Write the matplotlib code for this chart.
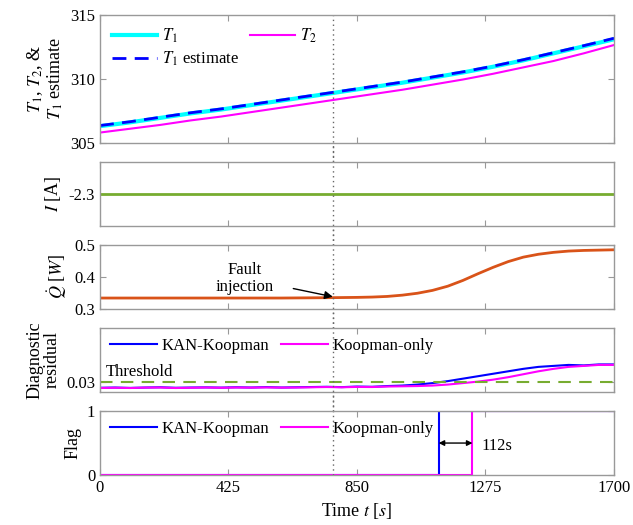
import numpy as np
import matplotlib
matplotlib.use('Agg')
import matplotlib.pyplot as plt

plt.rcParams['font.family'] = ['Liberation Serif', 'DejaVu Serif']
plt.rcParams['mathtext.fontset'] = 'stix'
plt.rcParams['font.size'] = 12

# temperatures (every 100 s)
t_temp = [0, 100, 200, 300, 400, 500, 600, 700, 800, 900,
          1000, 1100, 1200, 1300, 1400, 1500, 1600, 1700]
T1 = [306.3, 306.6, 306.95, 307.3, 307.6, 307.95, 308.3, 308.65, 309.0, 309.35,
      309.7, 310.1, 310.5, 310.95, 311.45, 312.0, 312.55, 313.1]
T1_est = [306.35, 306.65, 307.0, 307.35, 307.65, 308.0, 308.35, 308.7, 309.05, 309.4,
          309.75, 310.15, 310.55, 311.0, 311.5, 312.05, 312.6, 313.18]
T2 = [305.8, 306.1, 306.4, 306.75, 307.05, 307.4, 307.75, 308.1, 308.45, 308.8,
      309.15, 309.55, 309.95, 310.4, 310.9, 311.4, 312.0, 312.65]

# current
t_I = [0, 1700]
I_vals = [-2.3, -2.3]

# heat generation
t_Q = [0, 200, 400, 600, 750, 850, 900, 950, 1000, 1050, 1100, 1150, 1200,
       1250, 1300, 1350, 1400, 1450, 1500, 1550, 1600, 1650, 1700]
Q = [0.334, 0.334, 0.334, 0.334, 0.335, 0.336, 0.337, 0.339, 0.343, 0.349,
     0.358, 0.371, 0.389, 0.410, 0.430, 0.448, 0.462, 0.471, 0.477, 0.481,
     0.483, 0.484, 0.485]

# diagnostic residuals (every 50 s)
t_res = [0, 50, 100, 150, 200, 250, 300, 350, 400, 450, 500, 550, 600, 650,
         700, 750, 800, 850, 900, 950, 1000, 1050, 1100, 1150, 1200, 1250,
         1300, 1350, 1400, 1450, 1500, 1550, 1600, 1650, 1700]
res_kan = [0.02885, 0.0289, 0.02882, 0.0289, 0.02895, 0.02885, 0.0289, 0.02893,
           0.02888, 0.02895, 0.0289, 0.02898, 0.0289, 0.02895, 0.029, 0.02905,
           0.02898, 0.0291, 0.02905, 0.0292, 0.0293, 0.0295, 0.0298, 0.0302,
           0.0307, 0.0312, 0.0317, 0.0322, 0.0327, 0.0331, 0.0333, 0.0335,
           0.0334, 0.0336, 0.0336]
res_koop = [0.0288, 0.02885, 0.0288, 0.02888, 0.0289, 0.0288, 0.02885, 0.0289,
            0.02885, 0.0289, 0.02888, 0.02892, 0.02888, 0.0289, 0.02895, 0.029,
            0.02895, 0.02902, 0.029, 0.0291, 0.02915, 0.0292, 0.0293, 0.0295,
            0.0298, 0.0301, 0.0305, 0.031, 0.0316, 0.0322, 0.0327, 0.0331,
            0.0333, 0.0335, 0.0335]
threshold = 0.03

# detection flags
t_flag = [0, 1120, 1700]
flag_kan = [0, 1, 1]
t_flag2 = [0, 1232, 1700]
flag_koop = [0, 1, 1]

t_fault = 770

green = (0.466, 0.674, 0.188)
orange = (0.85, 0.325, 0.098)
edge = (0.6, 0.6, 0.6)

fig = plt.figure(figsize=(6.33, 5.25), dpi=100)
gs = fig.add_gridspec(5, 1, height_ratios=[2, 1, 1, 1, 1], hspace=0.25,
                      left=100/633, right=614/633, top=1-15/525, bottom=1-475/525)
axes = [fig.add_subplot(gs[i]) for i in range(5)]

for ax in axes:
    ax.set_xlim(0, 1700)
    ax.set_xticks([0, 425, 850, 1275, 1700])
    ax.tick_params(direction='in', top=True, right=True, length=4, color=edge,
                   labelsize=12)
    for s in ax.spines.values():
        s.set_color(edge)
        s.set_linewidth(1.0)
    if ax is not axes[-1]:
        ax.tick_params(labelbottom=False)

# panel 1
ax = axes[0]
ax.plot(t_temp, T1, color='cyan', lw=3, label='$T_1$')
ax.plot(t_temp, T1_est, color='blue', lw=2, ls=(0, (5, 3)), label='$T_1$ estimate')
ax.plot(t_temp, T2, color='magenta', lw=1.5, label='$T_2$')
ax.set_ylim(305, 315)
ax.set_yticks([305, 310, 315])
h, l = ax.get_legend_handles_labels()
ax.legend(h, l, ncol=2, loc='upper left', frameon=False, fontsize=12,
          handlelength=2.7, handletextpad=0.3, columnspacing=0.7,
          borderaxespad=0.3, labelspacing=0.3)
ax.set_ylabel('$T_1$, $T_2$, &\n$T_1$ estimate', fontsize=13, linespacing=1.0)

# panel 2
ax = axes[1]
ax.plot(t_I, I_vals, color=green, lw=2)
ax.set_ylim(-2.4, -2.2)
ax.set_yticks([-2.3])
ax.set_yticklabels(['-2.3'])
ax.set_ylabel('$I$ [A]', fontsize=13)

# panel 3
ax = axes[2]
ax.plot(t_Q, Q, color=orange, lw=2)
ax.set_ylim(0.3, 0.5)
ax.set_yticks([0.3, 0.4, 0.5])
ax.set_ylabel(r'$\dot{Q}$ [$W$]', fontsize=13)
ax.annotate('Fault\ninjection', xy=(t_fault, 0.338), xytext=(480, 0.395),
            ha='center', va='center', fontsize=12, linespacing=1.1,
            arrowprops=dict(arrowstyle='-|>', color='black', lw=1,
                            shrinkA=12, shrinkB=0, mutation_scale=12))

# panel 4
ax = axes[3]
ax.plot(t_res, res_kan, color='blue', lw=1.5, label='KAN-Koopman')
ax.plot(t_res, res_koop, color='magenta', lw=1.5, label='Koopman-only')
ax.axhline(threshold, color=green, lw=1.5, ls=(0, (6, 4)))
ax.text(20, threshold + 0.0004, 'Threshold', fontsize=12, va='bottom')
ax.set_ylim(0.028, 0.041)
ax.set_yticks([0.03])
ax.set_yticklabels(['0.03'])
ax.legend(ncol=2, loc='upper left', frameon=False, fontsize=12,
          handlelength=2.8, handletextpad=0.3, columnspacing=0.7,
          borderaxespad=0.2)
ax.set_ylabel('Diagnostic\nresidual', fontsize=13, linespacing=1.0)

# panel 5
ax = axes[4]
ax.step(t_flag, flag_kan, where='post', color='blue', lw=1.5, label='KAN-Koopman')
ax.step(t_flag2, flag_koop, where='post', color='magenta', lw=1.5, label='Koopman-only')
ax.set_ylim(0, 1)
ax.set_yticks([0, 1])
ax.legend(ncol=2, loc='upper left', frameon=False, fontsize=12,
          handlelength=2.8, handletextpad=0.3, columnspacing=0.7,
          borderaxespad=0.2)
ax.annotate('', xy=(t_flag[1], 0.5), xytext=(t_flag2[1], 0.5),
            arrowprops=dict(arrowstyle='<|-|>', color='black', lw=1,
                            shrinkA=0, shrinkB=0, mutation_scale=8))
ax.text(t_flag2[1] + 30, 0.45, '%ds' % (t_flag2[1] - t_flag[1]), fontsize=12,
        va='center')
ax.set_ylabel('Flag', fontsize=13)
ax.set_xlabel('Time $t$ [$s$]', fontsize=13)

for ax in axes:
    ax.axvline(t_fault, color=(0.4, 0.4, 0.4), lw=1, ls=(0, (1, 2.5)),
               clip_on=False, ymin=-0.3 if ax is not axes[-1] else 0, ymax=1.3 if ax is not axes[0] else 1)

fig.savefig('out.png', dpi=100)
